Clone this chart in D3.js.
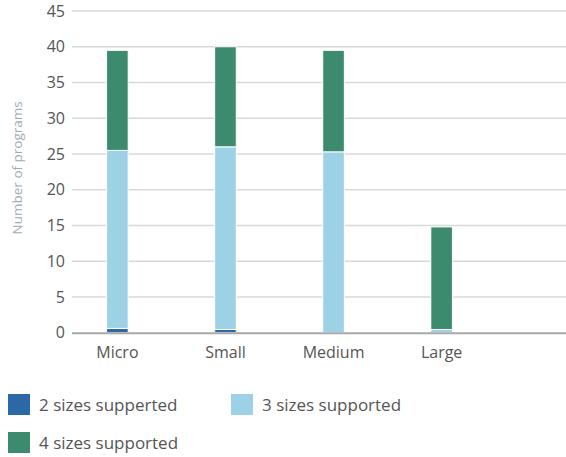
<!DOCTYPE html>
<html>
<head>
<meta charset="utf-8">
<script src="https://cdn.jsdelivr.net/npm/d3@7"></script>
<style>
  html, body { margin: 0; padding: 0; background: #fff; }
  svg { display: block; font-family: "Open Sans", "Noto Sans", sans-serif; }
</style>
</head>
<body>
<svg id="chart" width="566" height="457"></svg>
<script>
// Company size categories
const categories = ["Micro", "Small", "Medium", "Large"];

// Number of programs per supported-size count
const twoSizes   = [0.6, 0.45, 0, 0];
const threeSizes = [24.9, 25.55, 25.3, 0.45];
const fourSizes  = [14.0, 14.0, 14.2, 14.35];

const seriesNames  = ["2 sizes supperted", "3 sizes supported", "4 sizes supported"];
const seriesColors = ["#2d68a6", "#9dd1e6", "#3d8b6e"];
const yTicks = [0, 5, 10, 15, 20, 25, 30, 35, 40, 45];

const svg = d3.select("#chart");
const plotLeft = 72, plotRight = 566, plotTop = 11, plotBottom = 332.7;
const fontStack = "\"Open Sans\", \"Noto Sans\", sans-serif";

const x = d3.scaleBand()
  .domain(categories)
  .range([plotLeft, 487])
  .paddingInner(0.8)
  .paddingOuter(0.32);

const y = d3.scaleLinear().domain([0, 45]).range([plotBottom, plotTop]);

// Horizontal gridlines
svg.append("g")
  .selectAll("line")
  .data(yTicks.filter(d => d > 0))
  .join("line")
  .attr("x1", plotLeft).attr("x2", plotRight)
  .attr("y1", d => y(d)).attr("y2", d => y(d))
  .attr("stroke", "#d6d9db")
  .attr("stroke-width", 1.5);

// Y axis tick labels
const yAxis = d3.axisLeft(y).tickValues(yTicks).tickSize(0).tickPadding(0);
const yg = svg.append("g").attr("transform", `translate(${plotLeft - 7},0)`).call(yAxis);
yg.select(".domain").remove();
yg.selectAll("text")
  .attr("font-size", 16)
  .attr("fill", "#555")
  .attr("font-family", fontStack);

// Y axis title
svg.append("text")
  .attr("transform", `translate(22,${(plotTop + plotBottom) / 2 - 4}) rotate(-90)`)
  .attr("text-anchor", "middle")
  .attr("font-size", 13.5)
  .attr("fill", "#a3abb2")
  .text("Number of programs");

// Stacked bars
const rows = categories.map((c, i) => ({
  cat: c, s0: twoSizes[i], s1: threeSizes[i], s2: fourSizes[i]
}));
const stack = d3.stack().keys(["s0", "s1", "s2"]);
const layers = stack(rows);

svg.append("g")
  .selectAll("g")
  .data(layers)
  .join("g")
  .attr("fill", (d, i) => seriesColors[i])
  .selectAll("rect")
  .data(d => d.filter(p => p[1] - p[0] > 0))
  .join("rect")
  .attr("x", d => x(d.data.cat))
  .attr("width", x.bandwidth())
  .attr("y", d => y(d[1]))
  .attr("height", d => y(d[0]) - y(d[1]))
  .attr("stroke", "#fff")
  .attr("stroke-width", 1);

// Baseline
svg.append("line")
  .attr("x1", plotLeft).attr("x2", plotRight)
  .attr("y1", y(0) + 0.5).attr("y2", y(0) + 0.5)
  .attr("stroke", "#a5a9ac")
  .attr("stroke-width", 2);

// X axis labels
const xAxis = d3.axisBottom(x).tickSize(0).tickPadding(0);
const xg = svg.append("g").attr("transform", `translate(0,${plotBottom + 14})`).call(xAxis);
xg.select(".domain").remove();
xg.selectAll("text")
  .attr("font-size", 16)
  .attr("fill", "#555")
  .attr("font-family", fontStack);

// Legend
const legendPos = [[8, 394], [231, 394], [8, 432]];
const lg = svg.append("g")
  .selectAll("g")
  .data(seriesNames)
  .join("g")
  .attr("transform", (d, i) => `translate(${legendPos[i][0]},${legendPos[i][1]})`);
lg.append("rect")
  .attr("width", 22).attr("height", 21)
  .attr("fill", (d, i) => seriesColors[i]);
lg.append("text")
  .attr("x", 31).attr("y", 17)
  .attr("font-size", 17)
  .attr("fill", "#555")
  .text(d => d);
</script>
</body>
</html>
